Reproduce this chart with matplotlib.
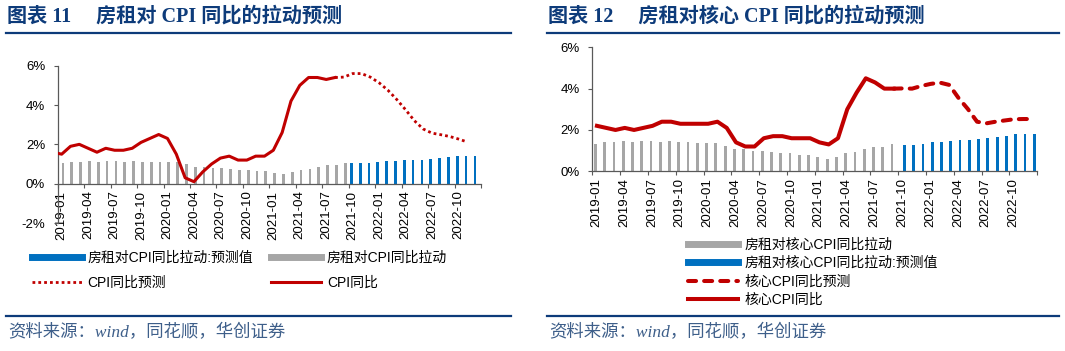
import numpy as np
import pandas as pd
import matplotlib
matplotlib.use('Agg')
import matplotlib.pyplot as plt
from matplotlib.lines import Line2D
from matplotlib.transforms import ScaledTranslation

plt.rcParams['font.family'] = ['Liberation Sans', 'Noto Sans CJK SC']
plt.rcParams['axes.unicode_minus'] = False

months = list(pd.date_range('2019-01-01', periods=48, freq='MS').strftime('%Y-%m'))

# 图表11 房租对CPI同比的拉动
cpi_actual = [1.6, 1.5, 1.9, 2.0, 1.8, 1.6, 1.8, 1.7, 1.7, 1.8, 2.1, 2.3, 2.5, 2.3, 1.5, 0.3,
              0.1, 0.6, 1.0, 1.3, 1.4, 1.2, 1.2, 1.4, 1.4, 1.7, 2.6, 4.2, 5.0, 5.4, 5.4, 5.3, 5.4]
cpi_forecast = [5.4, 5.42, 5.6, 5.6, 5.42, 5.13, 4.75, 4.28, 3.76, 3.2, 2.78, 2.57, 2.49, 2.4, 2.27, 2.12]
rent_cpi = [1.05, 1.1, 1.1, 1.13, 1.12, 1.15, 1.15, 1.12, 1.15, 1.12, 1.12, 1.1, 1.1, 1.1, 1.0, 0.87,
            0.83, 0.78, 0.78, 0.73, 0.69, 0.68, 0.63, 0.63, 0.54, 0.5, 0.57, 0.69, 0.74, 0.86, 0.96, 0.96, 1.06]
rent_cpi_fc = [1.03, 1.05, 1.06, 1.11, 1.13, 1.15, 1.2, 1.22, 1.22, 1.27, 1.3, 1.37, 1.42, 1.43, 1.43]

# 图表12 房租对核心CPI同比的拉动
core_actual = [2.2, 2.1, 2.0, 2.1, 2.0, 2.1, 2.2, 2.4, 2.4, 2.3, 2.3, 2.3, 2.3, 2.4, 2.1, 1.4,
               1.2, 1.2, 1.6, 1.7, 1.7, 1.6, 1.6, 1.6, 1.4, 1.3, 1.6, 3.0, 3.8, 4.5, 4.3, 4.0, 4.0]
core_forecast = [4.0, 4.01, 4.0, 4.13, 4.23, 4.29, 4.18, 3.55, 3.02, 2.4, 2.32, 2.4, 2.46, 2.52, 2.53, 2.53]
rent_core = [1.32, 1.42, 1.42, 1.45, 1.42, 1.45, 1.45, 1.42, 1.45, 1.42, 1.42, 1.35, 1.39, 1.39, 1.24, 1.08,
             1.08, 1.0, 1.0, 0.95, 0.89, 0.89, 0.79, 0.79, 0.68, 0.61, 0.71, 0.87, 0.92, 1.08, 1.19, 1.19, 1.32]
rent_core_fc = [1.29, 1.29, 1.32, 1.4, 1.42, 1.45, 1.52, 1.53, 1.55, 1.6, 1.65, 1.69, 1.79, 1.79, 1.79]

RED = '#C00000'
BLUE = '#0070C0'
GRAY = '#A6A6A6'
NAVY = '#0D3B7A'
SRC = '#3E5F8A'
AXC = '#595959'
DOT = (0, (1, 1.1))
DASH = (0, (2, 2))

W, H = 1065, 351
fig = plt.figure(figsize=(W / 100, H / 100), dpi=100)

def fx(px):
    return px / W

def fy(py):
    return 1 - py / H

n_act = len(cpi_actual)
x_act = np.arange(n_act)
x_fc = np.arange(n_act - 1, len(months))
x_bar_fc = np.arange(n_act, len(months))


def style_axis(ax, ymin, ymax):
    ax.set_xlim(0, len(months))
    ax.set_ylim(ymin, ymax)
    ax.set_yticks(np.arange(ymin, ymax + 1, 2))
    ax.set_yticklabels([f'{v}%' for v in np.arange(ymin, ymax + 1, 2)])
    ax.spines['top'].set_visible(False)
    ax.spines['right'].set_visible(False)
    ax.spines['bottom'].set_position(('data', 0))
    for s in ('left', 'bottom'):
        ax.spines[s].set_color(AXC)
        ax.spines[s].set_linewidth(0.9)
    ticks = list(range(0, len(months) + 1, 3))
    ax.set_xticks(ticks)
    ax.set_xticklabels([months[t] if t < len(months) else '' for t in ticks], rotation=90)
    ax.tick_params(axis='x', direction='out', length=3, color=AXC, labelsize=9.5, pad=2)
    ax.tick_params(axis='y', direction='out', length=3, color=AXC, labelsize=9.5, pad=6)
    off = ScaledTranslation(4 / 100, 0, fig.dpi_scale_trans)
    for lab in ax.get_xticklabels():
        lab.set_verticalalignment('top')
        lab.set_transform(lab.get_transform() + off)


# ---------- left chart ----------
ax1 = fig.add_axes([fx(57.7), fy(223), fx(481 - 57.7), (223 - 65.7) / H])
ax1.bar(x_act + 0.6, rent_cpi, width=0.3, color=GRAY, zorder=2)
ax1.bar(x_bar_fc + 0.3, rent_cpi_fc, width=0.3, color=BLUE, zorder=2)
ax1.plot(x_act - 0.55, cpi_actual, color=RED, lw=2.2, zorder=3, solid_joinstyle='round')
ax1.plot(x_fc - 0.55, cpi_forecast, color=RED, lw=2.0, linestyle=DOT, zorder=3)
style_axis(ax1, -2, 6)

h1 = [Line2D([], [], color=BLUE, lw=5),
      Line2D([], [], color=RED, lw=2.0, linestyle=DOT),
      Line2D([], [], color=GRAY, lw=5),
      Line2D([], [], color=RED, lw=2.2)]
l1 = ['房租对CPI同比拉动:预测值', 'CPI同比预测', '房租对CPI同比拉动', 'CPI同比']
fig.legend(h1, l1, loc='upper left', bbox_to_anchor=(fx(31.5), fy(250.5)), ncol=2, frameon=False,
           fontsize=10, handlelength=3.6, handletextpad=0.45, columnspacing=1.25,
           labelspacing=0.82, borderpad=0, borderaxespad=0)

# ---------- right chart ----------
ax2 = fig.add_axes([fx(592.3), fy(171.3), fx(1037.3 - 592.3), 124 / H])
ax2.bar(x_act + 0.33, rent_core, width=0.3, color=GRAY, zorder=2)
ax2.bar(x_bar_fc + 0.67, rent_core_fc, width=0.3, color=BLUE, zorder=2)
ax2.plot(x_act + 0.5, core_actual, color=RED, lw=2.9, zorder=3, solid_joinstyle='round')
ax2.plot(x_fc + 0.5, core_forecast, color=RED, lw=2.9, linestyle=DASH,
         dash_capstyle='round', zorder=3)
style_axis(ax2, 0, 6)

h2 = [Line2D([], [], color=GRAY, lw=5),
      Line2D([], [], color=BLUE, lw=5),
      Line2D([], [], color=RED, lw=2.9, linestyle=DASH, dash_capstyle='round'),
      Line2D([], [], color=RED, lw=2.9)]
l2 = ['房租对核心CPI同比拉动', '房租对核心CPI同比拉动:预测值', '核心CPI同比预测', '核心CPI同比']
fig.legend(h2, l2, loc='upper left', bbox_to_anchor=(fx(688), fy(237.5)), ncol=1, frameon=False,
           fontsize=10, handlelength=3.6, handletextpad=0.45,
           labelspacing=0.32, borderpad=0, borderaxespad=0)

# ---------- titles, rules, sources ----------
for x0, x1, title in [(6, 511, '图表 11     房租对 CPI 同比的拉动预测'),
                      (547, 1059, '图表 12     房租对核心 CPI 同比的拉动预测')]:
    fig.text(fx(x0 + 1), fy(17), title, fontsize=14.5, fontweight='bold', color=NAVY,
             va='center', ha='left', family=['Liberation Serif', 'Noto Sans CJK SC'])
    fig.add_artist(Line2D([fx(x0), fx(x1)], [fy(33), fy(33)], color=NAVY, lw=1.6))
    fig.add_artist(Line2D([fx(x0), fx(x1)], [fy(316), fy(316)], color=NAVY, lw=1.6))
    fig.text(fx(x0 + 2), fy(333), '资料来源：wind，同花顺，华创证券', fontsize=12.5,
             color=SRC, va='center', ha='left', style='italic',
             family=['Liberation Serif', 'Noto Sans CJK SC'])

fig.savefig('out.png', dpi=100)
